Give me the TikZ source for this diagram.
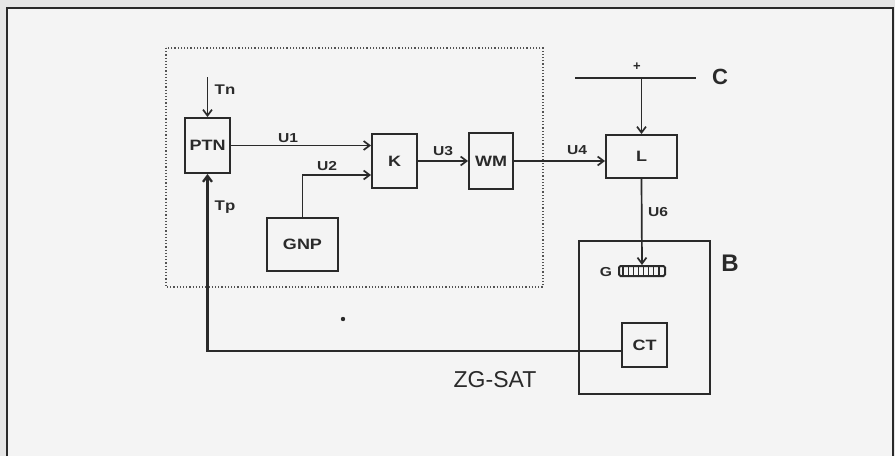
\documentclass[tikz,border=0pt]{standalone}
\usepackage{fontspec}
\setmainfont{Liberation Sans}
\newfontfamily\wide{Liberation Sans}[FakeStretch=1.2]
\usetikzlibrary{arrows.meta}
\definecolor{ink}{HTML}{2A2A2A}
\definecolor{paper}{HTML}{E6E6E6}
\definecolor{inner}{HTML}{F4F4F4}
\begin{document}
\begin{tikzpicture}[x=1pt,y=-1pt,
  blk/.style={draw=ink, line width=1.9pt, inner sep=0pt, text=ink,
    font=\wide\bfseries\fontsize{15}{15}\selectfont},
  arr/.style={draw=ink, line width=1.7pt, -{Straight Barb[length=6pt,width=9pt]}},
  lbl/.style={text=ink, inner sep=0pt, font=\wide\bfseries\fontsize{13}{13}\selectfont},
  wire/.style={draw=ink, line width=1.9pt}]
\useasboundingbox (0,0) rectangle (895,456);
\fill[paper] (0,0) rectangle (895,456);
\fill[inner] (7,8) rectangle (893,456);
\draw[ink, line width=2pt] (7,456) -- (7,8) -- (893,8) -- (893,456);
\draw[gray!65!black, line width=1.2pt, dotted] (166,48) rectangle (543,287);
% blocks
\node[blk, minimum width=45pt, minimum height=55pt] (ptn) at (207.5,145.5) {PTN};
\node[blk, minimum width=45pt, minimum height=54pt] (k) at (394.5,161) {K};
\node[blk, minimum width=44pt, minimum height=56pt] (wm) at (491,161) {WM};
\node[blk, minimum width=71pt, minimum height=53pt] (gnp) at (302.5,244.5) {GNP};
\node[blk, minimum width=71pt, minimum height=43pt] (l) at (641.5,156.5) {L};
\node[blk, minimum width=131pt, minimum height=153pt] (b) at (644.5,317.5) {};
\node[blk, minimum width=45pt, minimum height=44pt] (ct) at (644.5,345) {CT};
\node[draw=ink, line width=2pt, rounded corners=1.5pt, inner sep=0pt,
  minimum width=46pt, minimum height=10pt] (g) at (642,271) {};
\foreach \i in {1,...,8}
  \draw[ink, line width=1.4pt] ([xshift=\i*5.11pt]g.south west) -- ([xshift=\i*5.11pt]g.north west);
% coordinates
\coordinate (tn) at (207.5,77);
\coordinate (cl) at (575,78);
\coordinate (cr) at (696,78);
% connectors
\draw[wire] (cl) -- (cr);
\draw[arr] (l.north |- cl) -- (l.north);
\draw[arr] (tn) -- (ptn.north);
\draw[arr] (ptn.east) -- (ptn.east -| k.west);
\draw[arr] (gnp.north) |- ([yshift=-14pt]k.west);
\draw[arr] (k.east) -- (k.east -| wm.west);
\draw[arr] (wm.east) -- (wm.east -| l.west);
\draw[arr] (l.south) -- (g.north);
\draw[arr, line width=2.3pt] ([yshift=-6pt]ct.west) -| (ptn.south);
% labels
\node[lbl, font=\wide\bfseries\fontsize{14}{14}\selectfont] (ltn) at (225,90) {Tn};
\node[lbl, font=\wide\bfseries\fontsize{14}{14}\selectfont] (ltp) at (225,207) {Tp};
\node[lbl] (lu1) at (288,138) {U1};
\node[lbl] (lu2) at (327,166) {U2};
\node[lbl] (lu3) at (443,151) {U3};
\node[lbl] (lu4) at (577,150) {U4};
\node[lbl] (lu6) at (658,212) {U6};
\node[lbl] (lg) at (606,272) {G};
\node[lbl, font=\bfseries\fontsize{13}{13}\selectfont] (lplus) at (637,67) {+};
\node[text=ink, inner sep=0pt, font=\fontsize{22}{22}\selectfont\bfseries] (lc) at (720,77) {C};
\node[text=ink, inner sep=0pt, font=\fontsize{24}{24}\selectfont\bfseries] (lb) at (730,263) {B};
\node[text=ink, inner sep=0pt, font=\fontsize{23}{23}\selectfont] (lzg) at (495,380) {ZG-SAT};
\fill[ink] (343,319) circle (2.2pt);
\end{tikzpicture}
\end{document}
